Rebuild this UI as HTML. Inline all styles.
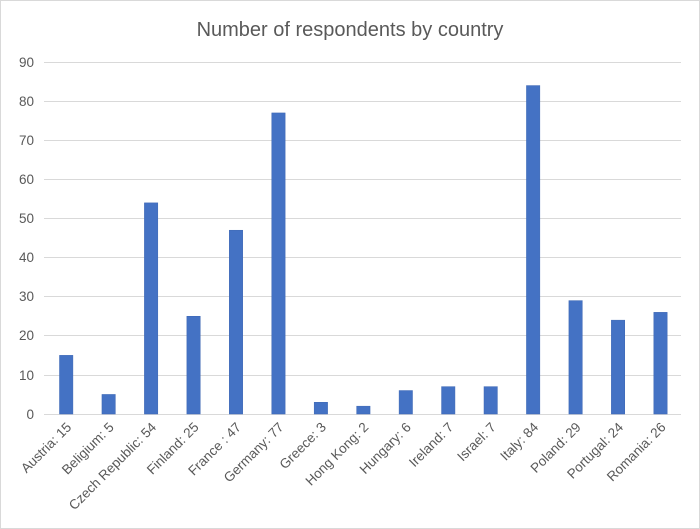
<!DOCTYPE html>
<html><head><style>body{margin:0;background:#fff}svg{display:block}</style></head><body>
<svg width="700" height="529" xmlns="http://www.w3.org/2000/svg" font-family="Liberation Sans, sans-serif">
<rect x="0.5" y="0.5" width="699" height="528" fill="#fff" stroke="#d9d9d9"/>
<text x="350" y="36" text-anchor="middle" font-size="20" fill="#595959">Number of respondents by country</text>
<g stroke="#d9d9d9" stroke-width="1">
<line x1="44" x2="681" y1="62.5" y2="62.5"/><line x1="44" x2="681" y1="101.5" y2="101.5"/>
<line x1="44" x2="681" y1="140.5" y2="140.5"/><line x1="44" x2="681" y1="179.5" y2="179.5"/>
<line x1="44" x2="681" y1="218.5" y2="218.5"/><line x1="44" x2="681" y1="257.5" y2="257.5"/>
<line x1="44" x2="681" y1="296.5" y2="296.5"/><line x1="44" x2="681" y1="335.5" y2="335.5"/>
<line x1="44" x2="681" y1="375.5" y2="375.5"/><line x1="44" x2="681" y1="414.5" y2="414.5"/>
</g>
<g font-size="13.5" fill="#595959" text-anchor="end">
<text x="34" y="67">90</text><text x="34" y="106">80</text><text x="34" y="145">70</text>
<text x="34" y="184">60</text><text x="34" y="223">50</text><text x="34" y="262">40</text>
<text x="34" y="301">30</text><text x="34" y="340">20</text><text x="34" y="380">10</text>
<text x="34" y="419">0</text>
</g>
<g fill="#4472c4" stroke="#3d67b3" stroke-width="0.5" id="bars"></g>
<g id="labels" font-size="13.5" fill="#595959" text-anchor="end"></g>
<script>
var d=[["Austria: 15",15],["Beligium: 5",5],["Czech Republic: 54",54],["Finland: 25",25],["France : 47",47],["Germany: 77",77],["Greece: 3",3],["Hong Kong: 2",2],["Hungary: 6",6],["Ireland: 7",7],["Israel: 7",7],["Italy: 84",84],["Poland: 29",29],["Portugal: 24",24],["Romania: 26",26]];
var b=document.getElementById("bars"),l=document.getElementById("labels"),ns="http://www.w3.org/2000/svg";
d.forEach(function(e,i){var cx=66.2+i*42.45,h=e[1]*3.91;
var r=document.createElementNS(ns,"rect");r.setAttribute("x",cx-6.7);r.setAttribute("y",414-h);r.setAttribute("width",13.4);r.setAttribute("height",h);b.appendChild(r);
var t=document.createElementNS(ns,"text");t.setAttribute("transform","translate("+(cx+6)+",428) rotate(-45)");t.textContent=e[0];l.appendChild(t);});
</script>
</svg>
</body></html>
